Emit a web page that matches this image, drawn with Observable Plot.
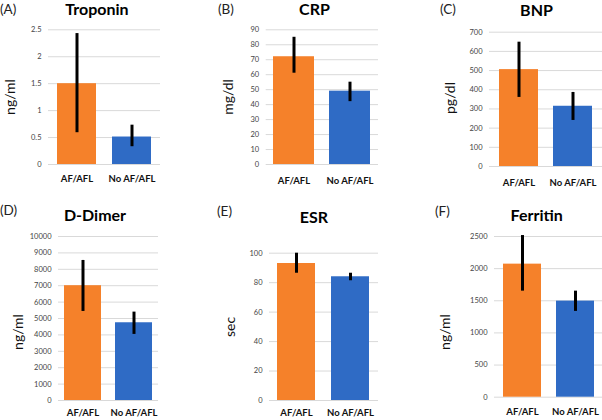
<!DOCTYPE html>
<html>
<head>
<meta charset="utf-8">
<script src="https://cdn.jsdelivr.net/npm/d3@7"></script>
<script src="https://cdn.jsdelivr.net/npm/@observablehq/plot@0.6"></script>
<style>
  html, body { margin: 0; padding: 0; background: #fff; }
  #root { position: relative; width: 602px; height: 420px; overflow: hidden; font-family: Lato, "Open Sans", sans-serif; }
  .panel { position: absolute; }
  .title { position: absolute; font-weight: bold; font-size: 16px; color: #000; white-space: nowrap; transform: translateX(-50%); line-height: 1; }
  .letter { position: absolute; font-size: 13.5px; color: #222; white-space: nowrap; line-height: 1; }
  .ylab { position: absolute; font-size: 14px; color: #111; white-space: nowrap; transform: translate(-50%, -50%) rotate(-90deg); line-height: 1; }
</style>
</head>
<body>
<div id="root"></div>
<script>
// ---- data ----
const categories = ["AF/AFL", "No AF/AFL"];
const panelLetters = ["(A)", "(B)", "(C)", "(D)", "(E)", "(F)"];
const titles = ["Troponin", "CRP", "BNP", "D-Dimer", "ESR", "Ferritin"];
const units = ["ng/ml", "mg/dl", "pg/dl", "ng/ml", "sec", "ng/ml"];
const meanAF = [1.5, 72, 505, 7000, 93, 2070];
const meanNoAF = [0.51, 49, 314, 4740, 84, 1495];
const lowAF = [0.59, 61, 360, 5430, 86.4, 1650];
const highAF = [2.43, 85, 648, 8540, 100, 2515];
const lowNoAF = [0.33, 42, 240, 4030, 81.3, 1335];
const highNoAF = [0.73, 55, 386, 5390, 86.4, 1650];
const yMax = [2.5, 90, 700, 10000, 100, 2500];
const yStep = [0.5, 10, 100, 1000, 20, 500];
const colors = ["#F5812A", "#2F6BC5"];

// ---- layout ----
const layout = [
  {left: 0,   top: 0,   w: 200, h: 200, mt: 29.3, mb: 36,   ml: 48,   mr: 40, pi: 0.30, po: 0.16, xPad: 11,
   title: [97, 0.5], letter: [0, 3], ylab: [10, 97]},
  {left: 200, top: 0,   w: 200, h: 200, mt: 29.3, mb: 36,   ml: 65.7, mr: 22, pi: 0.27, po: 0.13, xPad: 12.5,
   title: [114.5, 0.5], letter: [18, 3], ylab: [28, 97]},
  {left: 400, top: 0,   w: 202, h: 200, mt: 31.7, mb: 34,   ml: 89,   mr: 0,  pi: 0.28, po: 0.17, xPad: 12.5,
   title: [136.5, 1.5], letter: [40, 3], ylab: [49.5, 98]},
  {left: 0,   top: 200, w: 200, h: 220, mt: 36,   mb: 20,   ml: 58,   mr: 42, pi: 0.28, po: 0.12, xPad: 8.5,
   title: [95, 7], letter: [0, 3.5], ylab: [17.5, 131.7]},
  {left: 200, top: 200, w: 200, h: 220, mt: 52.7, mb: 20,   ml: 69,   mr: 22, pi: 0.29, po: 0.145, xPad: 9,
   title: [114, 8.5], letter: [17, 4.5], ylab: [30, 126.7]},
  {left: 400, top: 200, w: 202, h: 220, mt: 36,   mb: 23.3, ml: 94,   mr: 0,  pi: 0.29, po: 0.15, xPad: 11,
   title: [136.7, 7], letter: [35, 4.5], ylab: [45, 131.7]}
];

const root = document.getElementById("root");

titles.forEach((t, i) => {
  const L = layout[i];
  const rows = categories.map((c, j) => ({
    cat: c,
    mean: j === 0 ? meanAF[i] : meanNoAF[i],
    lo: j === 0 ? lowAF[i] : lowNoAF[i],
    hi: j === 0 ? highAF[i] : highNoAF[i]
  }));
  const ticks = d3.range(0, yMax[i] + yStep[i] / 2, yStep[i]);
  const chart = Plot.plot({
    width: L.w,
    height: L.h,
    marginTop: L.mt,
    marginBottom: L.mb,
    marginLeft: L.ml,
    marginRight: L.mr,
    style: {fontFamily: "Lato, 'Open Sans', sans-serif", background: "transparent", overflow: "visible"},
    x: {domain: categories, paddingInner: L.pi, paddingOuter: L.po, label: null},
    y: {domain: [0, yMax[i]], label: null},
    color: {domain: categories, range: colors},
    marks: [
      Plot.gridY(ticks, {stroke: "#d9d9d9", strokeOpacity: 1, strokeWidth: 1}),
      Plot.axisY(ticks, {tickSize: 0, tickPadding: 7, fontSize: 7.5, fill: "#444", label: null,
        tickFormat: d => String(d)}),
      Plot.axisX({tickSize: 0, tickPadding: L.xPad, fontSize: 9.5, fontWeight: "bold", fill: "#111", label: null}),
      Plot.barY(rows, {x: "cat", y: "mean", fill: "cat"}),
      Plot.ruleX(rows, {x: "cat", y1: "lo", y2: "hi", stroke: "#000", strokeWidth: 3})
    ]
  });
  const panel = document.createElement("div");
  panel.className = "panel";
  panel.style.left = L.left + "px";
  panel.style.top = L.top + "px";
  panel.style.width = L.w + "px";
  panel.style.height = L.h + "px";
  panel.appendChild(chart);

  const title = document.createElement("div");
  title.className = "title";
  title.textContent = t;
  title.style.left = L.title[0] + "px";
  title.style.top = L.title[1] + "px";
  panel.appendChild(title);

  const letter = document.createElement("div");
  letter.className = "letter";
  letter.textContent = panelLetters[i];
  letter.style.left = L.letter[0] + "px";
  letter.style.top = L.letter[1] + "px";
  panel.appendChild(letter);

  const ylab = document.createElement("div");
  ylab.className = "ylab";
  ylab.textContent = units[i];
  ylab.style.left = L.ylab[0] + "px";
  ylab.style.top = L.ylab[1] + "px";
  panel.appendChild(ylab);

  root.appendChild(panel);
});
</script>
</body>
</html>
